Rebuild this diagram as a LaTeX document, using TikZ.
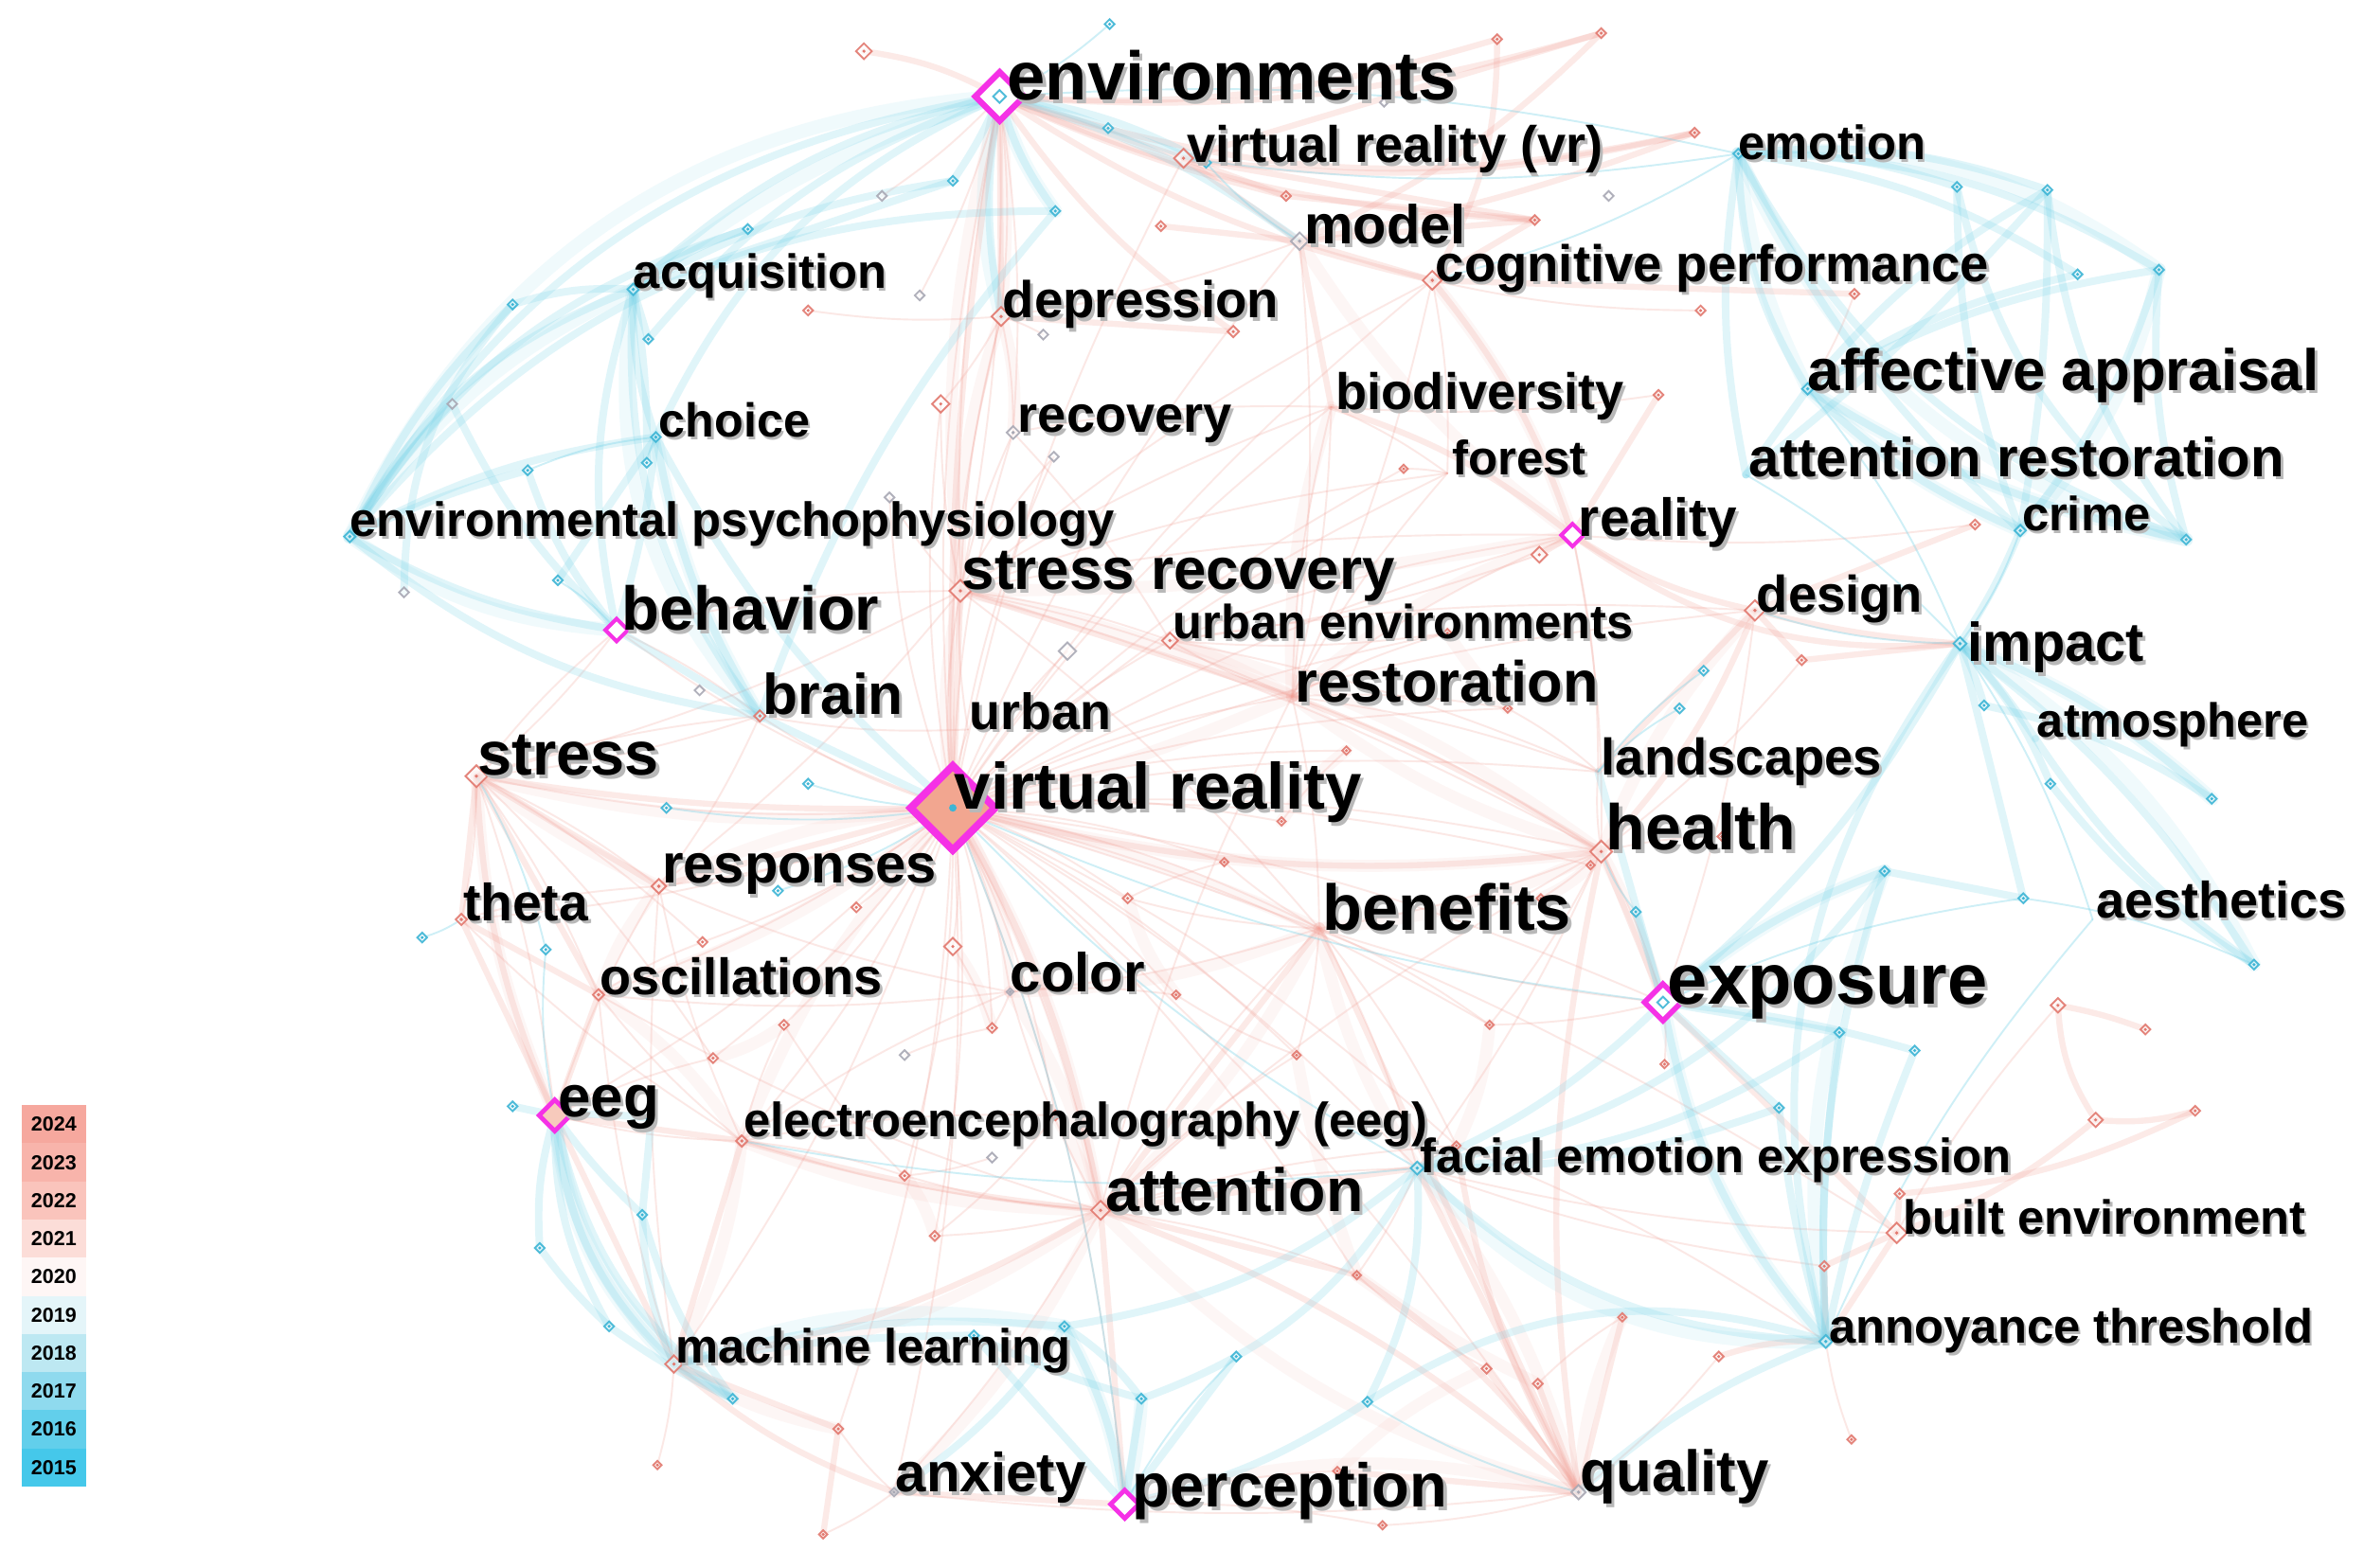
\documentclass[tikz,border=0pt]{standalone}
\usepackage{graphicx}
\usepackage{fontspec}
\setmainfont{Liberation Sans}
\usetikzlibrary{shapes.geometric}
\definecolor{bl}{HTML}{74D2E8}
\definecolor{pk}{HTML}{F2A096}
\definecolor{mg}{HTML}{F531E6}
\definecolor{bmk}{HTML}{3DB5D5}
\definecolor{pmk}{HTML}{E2786E}
\definecolor{gmk}{HTML}{A8A8B4}
\definecolor{hubfill}{HTML}{F2A690}
\definecolor{c24}{HTML}{F6A89E}
\definecolor{c23}{HTML}{F8B4AB}
\definecolor{c22}{HTML}{FAC4BC}
\definecolor{c21}{HTML}{FCDDD8}
\definecolor{c20}{HTML}{FEF6F5}
\definecolor{c19}{HTML}{E4F5F9}
\definecolor{c18}{HTML}{BDE8F2}
\definecolor{c17}{HTML}{8FDAEE}
\definecolor{c16}{HTML}{62CFEB}
\definecolor{c15}{HTML}{45C8EA}
\newcommand\shd[1]{\makebox[0pt][l]{\kern0.05em\raisebox{-0.06em}{\textcolor{black!28}{#1}}}#1}
\tikzset{
  be/.style={draw=bl, opacity=0.22, line cap=round, line width=5},
  bw/.style={draw=bl, opacity=0.10, line cap=round, line width=9},
  bt/.style={draw=bl, opacity=0.35, line cap=round, line width=1.2},
  pe/.style={draw=pk, opacity=0.22, line cap=round, line width=4},
  pw/.style={draw=pk, opacity=0.09, line cap=round, line width=8},
  pt/.style={draw=pk, opacity=0.24, line cap=round, line width=1.2},
  mk/.style={diamond, aspect=1, inner sep=0pt, draw=#1, line width=1.2, fill=white, fill opacity=0.6, draw opacity=0.9},
  hub/.style={diamond, aspect=1, inner sep=0pt, draw=mg},
  kwl/.style={anchor=base west, inner sep=0pt, font=\bfseries\fontsize{20}{24}\selectfont},
  legbox/.style={rectangle, anchor=north west, inner sep=0pt, minimum width=43, minimum height=25.4, font=\bfseries\fontsize{13.5}{15}\selectfont},
}
\newcommand\kwd[5]{\node[kwl] (t-#1) at (#2,#3) {\resizebox{#4pt}{!}{\shd{#5}}};}
\begin{document}
\begin{tikzpicture}[x=1pt,y=-1pt]
\useasboundingbox (0,0) rectangle (1568,1040);
\fill[white] (0,0) rectangle (1568,1040);
% ---------- node positions ----------
\foreach \n/\x/\y in {env/663/64, vrvr/785/105, emo/1153/102, model/862/160, cog/950/186, acq/420/192, dep/664/210, aff/1199/258, bio/883/270, rec/672/287, choice/435/290, forest/960/314, attr/1158/315, envpsy/232/356, real/1043/355, crime/1340/352, strrec/637/392, behav/409/418, design/1164/405, urbenv/776/425, impact/1300/427, restor/857/462, brain/504/475, urban/642/484, atmos/1350/490, stress/316/515, landsc/1060/512, vr/632/536, health/1062/565, resp/437/588, theta/306/610, benef/875/616, aesth/1388/610, expo/1103/665, osc/397/660, color/670/658, eeg/368/740, eegl/492/757, facial/940/775, atten/730/803, built/1258/818, annoy/1211/890, ml/447/905, anx/593/990, perc/746/998, qual/1047/990}
  {\coordinate (\n) at (\x,\y);}
% blue small nodes
\foreach \n/\x/\y in {b1/736/16, b2/735/85, b3/800/108, b4/700/140, b5/632/120, b6/496/152, b7/340/202, b8/430/225, b9/350/312, b10/370/385, b11/429/307, b12/1298/124, b13/1358/126, b14/1378/182, b15/1432/179, b16/1450/358, b17/1316/468, b18/1360/520, b19/1467/530, b20/1342/596, b21/1495/640, b22/1250/578, b23/442/536, b24/536/520, b25/516/591, b26/362/630, b27/280/622, b28/340/734, b29/432/742, b30/426/806, b31/358/828, b32/404/880, b33/486/928, b34/706/880, b35/757/928, b36/1180/735, b37/907/930, b38/1220/685, b39/1270/697, b40/1114/470, b41/1085/605, b42/646/886, b43/1130/445, b44/820/900}
  {\coordinate (\n) at (\x,\y);}
% pink small nodes
\foreach \n/\x/\y in {p1/573/34, p2/993/26, p3/1062/22, p4/1124/88, p5/853/130, p6/770/150, p7/536/206, p8/624/268, p9/1018/146, p10/818/220, p11/1100/262, p12/1128/206, p13/1230/195, p14/1310/348, p15/1021/368, p16/931/311, p17/1195/438, p18/568/602, p19/466/625, p20/632/628, p21/658/682, p22/748/596, p23/812/572, p24/850/545, p25/893/498, p26/473/702, p27/556/948, p28/436/972, p29/546/1018, p30/1260/792, p31/1210/840, p32/1140/900, p33/1365/667, p34/1423/683, p35/1390/743, p36/1456/737, p37/1228/955, p38/887/976, p39/1020/918, p40/986/908, p41/1076/874, p42/917/1012, p43/1055/574, p44/988/680, p45/966/760, p46/900/846, p47/1022/596, p48/1142/555, p49/600/780, p50/520/680, p51/700/740, p52/860/700, p53/780/660, p54/620/820, p55/1104/706, p56/1000/470, p57/960/420}
  {\coordinate (\n) at (\x,\y);}
% grey small nodes
\foreach \n/\x/\y in {g1/585/130, g2/610/196, g3/692/222, g4/300/268, g5/268/393, g6/590/330, g7/699/303, g8/1067/130, g9/708/432, g10/464/458, g11/600/700, g12/918/68, g14/658/768}
  {\coordinate (\n) at (\x,\y);}

% ---------- wide faint haze edges ----------
\foreach \a/\b/\c in {vr/strrec/10, vr/health/-10, vr/atten/10, vr/benef/5, vr/restor/-5, vr/osc/10, vr/eegl/-10, vr/color/15, vr/resp/-10, vr/stress/10, strrec/restor/5, strrec/real/-5, strrec/dep/10, restor/health/-10, restor/real/10, benef/health/-10, benef/atten/10, benef/facial/-10, atten/eegl/10, atten/qual/-15, atten/ml/15, eegl/osc/-10, eegl/ml/10, osc/resp/10, stress/eeg/-10, stress/resp/-5, color/atten/10, color/benef/-10, urbenv/restor/5, urbenv/health/10, design/health/-10, dep/rec/10, env/strrec/-10, env/dep/5, model/real/-10, cog/real/10, bio/restor/-10, facial/qual/10, health/expo/5, p20/p21/10, p22/p53/-10, p49/p54/10, p50/p26/10, p51/atten/5, p52/p46/-5, p44/p45/10, p24/p25/10, p56/p57/5, p43/p47/10, p27/ml/10, anx/atten/-10, perc/qual/15, p38/p40/10, qual/p41/10, p39/p46/5}
  {\draw[pw] (\a) to[bend left=\c] (\b);}
\foreach \a/\b/\c in {envpsy/env/30, envpsy/acq/15, envpsy/behav/-15, acq/env/10, acq/brain/-25, choice/brain/-10, env/b4/-10, env/dep/-15, emo/aff/-10, emo/b16/-25, emo/b15/20, aff/b16/-10, aff/crime/-10, crime/b15/-15, impact/b19/10, impact/b21/15, expo/annoy/-15, facial/annoy/-25, expo/b22/10, annoy/b22/15, eeg/b33/-25, eeg/ml/-20, ml/b34/15, b34/perc/10, perc/b35/-5}
  {\draw[bw] (\a) to[bend left=\c] (\b);}

% ---------- pink edges ----------
\foreach \a/\b/\c in {env/p4/-15, env/p3/-10, env/p2/-10, vrvr/p4/-10, model/p3/-10, model/p4/-5, cog/p2/-15, vrvr/p3/0, env/p9/-10, env/cog/-10, vrvr/model/0, vrvr/p5/0, p6/model/0, env/p5/-5, p5/p9/0, model/bio/0, model/cog/0, env/vrvr/0, env/p10/-10, dep/p10/0, dep/env/0, p1/env/10, cog/real/10, bio/real/10, real/design/-10, real/p15/0, real/impact/-20, design/impact/-5, design/health/10, design/landsc/0, design/p17/0, p17/impact/0, design/p14/0, built/p30/0, built/p31/0, built/p35/-10, p33/p35/-15, p35/p36/-10, p33/p34/5, p30/p36/-10, annoy/p31/0, annoy/p32/-10, annoy/built/0, built/expo/0, qual/p39/0, qual/p40/0, qual/atten/-10, qual/p46/-10, qual/p41/0, qual/p38/0, qual/facial/0, qual/p45/10, qual/benef/0, qual/health/10, eeg/theta/0, theta/stress/0, stress/osc/0, stress/eeg/-10, eeg/eegl/0, eegl/atten/-5, atten/facial/0, atten/p46/0, ml/eeg/0, ml/eegl/0, ml/atten/-10, ml/p27/0, p27/p29/0, ml/anx/-10, anx/perc/0, perc/atten/0, vr/strrec/0, vr/health/-10, vr/atten/10, vr/stress/5, vr/resp/0, vr/env/5, strrec/restor/0, restor/health/5, atten/benef/0, health/expo/0, stress/resp/0, theta/osc/0, eeg/osc/0, cog/p9/0, model/p9/0, vrvr/p9/0, p13/cog/0, p11/real/0}
  {\draw[pe] (\a) to[bend left=\c] (\b);}
\foreach \b in {env, dep, rec, strrec, stress, resp, theta, osc, color, health, benef, restor, urbenv, urban, brain, eegl, atten, ml, anx, perc, qual, expo, facial, landsc, design, real, bio, cog, model, vrvr, p20, p22, p23, p24, p25, p19, p18, p21, p26, p49, p50, p51, p52, p53, p54, eeg, behav, forest, p56, p57, p44, p43, built, p16, p8, g6, g7, g9, p45, p46, p27}
  {\draw[pt] (vr) to[bend left=8] (\b);}
\foreach \a/\b in {strrec/rec, strrec/dep, strrec/restor, strrec/urbenv, strrec/health, strrec/stress, strrec/resp, strrec/benef, strrec/p8, strrec/g6, strrec/g7, strrec/forest, strrec/bio, strrec/real, strrec/cog, strrec/env, stress/resp, stress/theta, stress/osc, stress/eeg, stress/behav, stress/brain, stress/p19, stress/p26, atten/benef, atten/color, atten/health, atten/restor, atten/p45, atten/p46, atten/p52, atten/p54, atten/eegl, atten/facial, atten/osc, atten/anx, atten/p49, restor/health, restor/benef, restor/landsc, restor/forest, restor/bio, restor/p56, restor/p57, restor/urbenv, restor/real, health/benef, health/landsc, health/p43, health/p47, health/p48, health/expo, health/facial, health/p44, eegl/osc, eegl/resp, eegl/color, eegl/p49, eegl/p50, eegl/p51, eegl/eeg, eegl/theta, benef/color, benef/p22, benef/p23, benef/p44, benef/p45, benef/facial, benef/p52, color/p21, color/p53, color/osc, color/resp, dep/rec, dep/p7, dep/g3, dep/p8, rec/urbenv, rec/bio, env/rec, env/strrec, env/dep, env/g1, env/g2, model/dep, model/restor, cog/restor, cog/forest, bio/forest, bio/restor, urbenv/real, urbenv/design, urbenv/landsc, real/landsc, real/health, design/expo, expo/benef, expo/p55, expo/p44, facial/p45, facial/p46, qual/p42, qual/anx, perc/p38, perc/p42, ml/p28, ml/osc, ml/resp, anx/p27, anx/p29, eeg/resp, eeg/p26, theta/resp, osc/p19, p20/p21, p22/p23, p24/p25, p51/p54, p49/p50, p52/p53, g11/p21, g14/p49, p39/p41, p40/p46, p37/annoy, p32/qual, p45/annoy, built/facial, built/p33, p31/facial, urban/brain, urban/strrec, brain/resp, brain/stress, behav/stress, behav/strrec, behav/brain, p12/cog, p13/aff, p11/bio, p14/real, p16/forest, p15/urbenv, p17/health, p56/landsc, p57/urbenv}
  {\draw[pt] (\a) to[bend left=6] (\b);}

% ---------- blue edges ----------
\foreach \a/\b/\c in {envpsy/acq/20, envpsy/env/25, envpsy/choice/10, envpsy/b7/10, envpsy/b6/20, envpsy/b4/25, envpsy/behav/-10, envpsy/brain/-15, envpsy/g4/5, envpsy/b9/5, acq/env/15, acq/b5/10, acq/choice/-10, acq/brain/-20, acq/b11/5, acq/b8/0, acq/b6/10, acq/behav/-15, choice/behav/5, choice/brain/-10, choice/b10/0, choice/vr/-10, b7/acq/10, b7/g5/-20, g4/behav/-10, b9/behav/-10, env/b2/5, env/b4/-10, env/b5/5, env/choice/-20, env/b8/-15, env/dep/-10, env/b3/10, env/model/10, b4/brain/-10, b5/acq/0, b2/b3/0, emo/aff/-15, emo/b12/10, emo/b13/12, emo/b15/15, emo/b14/12, emo/crime/-10, emo/attr/-10, emo/b16/-20, aff/b14/10, aff/b15/10, aff/crime/-10, aff/b16/-10, aff/b13/10, aff/attr/0, b12/b16/-20, b13/b16/-15, b15/b16/-10, crime/b15/-10, crime/b13/-5, attr/b13/-5, b12/crime/-10, impact/b17/5, impact/b18/10, impact/b19/10, impact/atmos/5, impact/b20/0, impact/b21/10, impact/crime/-5, impact/expo/10, b18/b21/-10, b17/b19/10, atmos/b21/-10, expo/b22/10, expo/facial/10, expo/annoy/-15, expo/b36/0, expo/b38/0, expo/b39/5, expo/b41/0, expo/landsc/0, facial/annoy/-20, facial/b22/-20, facial/b36/-10, facial/b38/-15, annoy/b22/10, annoy/b38/5, annoy/b39/5, annoy/qual/-10, annoy/b36/5, annoy/b37/-25, facial/b37/15, annoy/impact/25, b22/b20/0, eeg/b28/0, eeg/b29/5, eeg/b30/-5, eeg/b31/-10, eeg/b32/-15, eeg/b33/-20, eeg/ml/-20, b31/b32/-5, b30/b33/-10, b32/b33/-5, b33/ml/0, b29/b30/0, b30/ml/-10, ml/b34/10, ml/b42/5, b34/perc/10, b35/perc/0, b42/perc/0, b34/b35/10, b42/b35/-5, anx/b34/-10, perc/b44/0, perc/b37/-10, b34/facial/-15, b35/facial/-20, brain/vr/0, behav/brain/0}
  {\draw[be] (\a) to[bend left=\c] (\b);}
\foreach \a/\b in {vr/perc, vr/b24, vr/b25, vr/b23, env/emo, emo/cog, emo/vrvr, aff/impact, attr/impact, crime/impact, impact/design, expo/vr, facial/vr, facial/eegl, landsc/b40, landsc/b43, b41/health, qual/b37, perc/b44, eeg/b26, theta/b27, stress/b26, b10/behav, b9/choice, b11/choice, model/b3, b1/env, annoy/aesth, impact/aesth, b20/b21, expo/b20}
  {\draw[bt] (\a) to[bend left=8] (\b);}

% ---------- markers ----------
\foreach \n/\c/\s in {vrvr/pmk/13, emo/bmk/7, model/gmk/12, cog/pmk/13, acq/bmk/8, dep/pmk/13, aff/bmk/8, rec/gmk/9, choice/bmk/7, envpsy/bmk/8, crime/bmk/8, strrec/pmk/15, design/pmk/14, urbenv/pmk/11, impact/bmk/9, brain/pmk/8, stress/pmk/15, health/pmk/15, resp/pmk/10, theta/pmk/8, osc/pmk/8, color/gmk/5, eegl/pmk/8, facial/bmk/9, atten/pmk/13, built/pmk/14, annoy/bmk/9, ml/pmk/12, anx/gmk/6, qual/gmk/10}
  {\node[mk=\c, minimum size=\s pt] (m-\n) at (\n) {}; \fill[\c] (\n) circle (1.2);}
\foreach \n in {b1,b2,b3,b4,b5,b6,b7,b8,b9,b10,b11,b12,b13,b14,b15,b16,b17,b18,b19,b20,b21,b22,b23,b24,b25,b26,b27,b28,b29,b30,b31,b32,b33,b34,b35,b36,b37,b38,b39,b40,b41,b42,b43,b44}
  {\node[mk=bmk, minimum size=7pt] (m-\n) at (\n) {}; \fill[bmk] (\n) circle (1.1);}
\foreach \n/\s in {p1/11,p2/7,p3/7,p4/7,p5/7,p6/7,p7/7,p8/12,p9/7,p10/8,p11/7,p12/7,p13/7,p14/7,p15/11,p16/6,p17/7,p18/7,p19/7,p20/12,p21/7,p22/7,p23/6,p24/6,p25/6,p26/7,p27/7,p28/6,p29/6,p30/7,p31/7,p32/7,p33/10,p34/7,p35/10,p36/7,p37/6,p38/6,p39/7,p40/7,p41/6,p42/6,p43/6,p44/6,p45/6,p46/6,p47/6,p48/6,p49/7,p50/7,p51/7,p52/6,p53/6,p54/7,p55/6,p56/6,p57/6}
  {\node[mk=pmk, minimum size=\s pt] (m-\n) at (\n) {}; \fill[pmk] (\n) circle (1.1);}
\foreach \n/\s in {g1/7,g2/7,g3/7,g4/7,g5/7,g6/7,g7/7,g8/7,g9/12,g10/7,g11/7,g12/6,g14/7}
  {\node[mk=gmk, minimum size=\s pt] (m-\n) at (\n) {};}
% hub markers
\node[hub, line width=5, fill=hubfill, minimum size=58pt] (m-vr) at (vr) {};
\fill[bmk] (vr) circle (2.5);
\node[hub, line width=4, fill=white, minimum size=34pt] (m-env) at (env) {};
\node[mk=bmk, minimum size=9pt] (m-env2) at (env) {};
\node[hub, line width=3.5, fill=white, minimum size=26pt] (m-expo) at (expo) {};
\node[mk=bmk, minimum size=8pt] (m-expo2) at (expo) {};
\node[hub, line width=3, fill=hubfill!60, minimum size=22pt] (m-eeg) at (eeg) {};
\node[hub, line width=3, fill=white, minimum size=20pt] (m-perc) at (perc) {};
\node[hub, line width=2.5, fill=white, minimum size=16pt] (m-behav) at (behav) {};
\node[hub, line width=2.5, fill=white, minimum size=16pt] (m-real) at (real) {};

% ---------- labels ----------
\kwd{env}{668}{66}{298}{environments}
\kwd{vrvr}{787}{108}{276}{virtual reality (vr)}
\kwd{emo}{1153}{106}{124}{emotion}
\kwd{model}{865}{162}{107}{model}
\kwd{cog}{952}{187}{367}{cognitive performance}
\kwd{acq}{420}{191}{168}{acquisition}
\kwd{dep}{665}{211}{183}{depression}
\kwd{aff}{1199}{259}{339}{affective appraisal}
\kwd{bio}{886}{272}{191}{biodiversity}
\kwd{rec}{675}{287}{142}{recovery}
\kwd{choice}{437}{290}{100}{choice}
\kwd{forest}{963}{315}{89}{forest}
\kwd{attr}{1160}{316}{355}{attention restoration}
\kwd{envpsy}{232}{356}{507}{environmental psychophysiology}
\kwd{real}{1047}{356}{105}{reality}
\kwd{crime}{1341}{352}{85}{crime}
\kwd{strrec}{638}{391}{287}{stress recovery}
\kwd{behav}{412}{418}{171}{behavior}
\kwd{design}{1165}{406}{110}{design}
\kwd{urbenv}{778}{424}{305}{urban environments}
\kwd{impact}{1305}{439}{117}{impact}
\kwd{restor}{859}{466}{201}{restoration}
\kwd{brain}{506}{474}{93}{brain}
\kwd{urban}{643}{484}{94}{urban}
\kwd{atmos}{1351}{489}{180}{atmosphere}
\kwd{stress}{317}{514}{120}{stress}
\kwd{landsc}{1062}{514}{186}{landscapes}
\kwd{vr}{633}{537}{270}{virtual reality}
\kwd{health}{1065}{564}{126}{health}
\kwd{resp}{439}{586}{182}{responses}
\kwd{theta}{307}{611}{83}{theta}
\kwd{benef}{877}{617}{165}{benefits}
\kwd{aesth}{1390}{609}{166}{aesthetics}
\kwd{expo}{1106}{666}{212}{exposure}
\kwd{osc}{398}{660}{187}{oscillations}
\kwd{color}{670}{658}{89}{color}
\kwd{eeg}{370}{741}{67}{eeg}
\kwd{eegl}{493}{754}{454}{electroencephalography (eeg)}
\kwd{facial}{942}{778}{392}{facial emotion expression}
\kwd{atten}{733}{804}{171}{attention}
\kwd{built}{1262}{819}{267}{built environment}
\kwd{annoy}{1213}{891}{321}{annoyance threshold}
\kwd{ml}{448}{904}{262}{machine learning}
\kwd{anx}{594}{990}{126}{anxiety}
\kwd{perc}{751}{1000}{209}{perception}
\kwd{qual}{1048}{990}{125}{quality}

% ---------- legend ----------
\foreach \i/\c/\t in {0/c24/2024, 1/c23/2023, 2/c22/2022, 3/c21/2021, 4/c20/2020, 5/c19/2019, 6/c18/2018, 7/c17/2017, 8/c16/2016, 9/c15/2015}
  {\node[legbox, fill=\c] (leg\t) at (14,{733+25.3*\i}) {\t};}
\end{tikzpicture}
\end{document}
